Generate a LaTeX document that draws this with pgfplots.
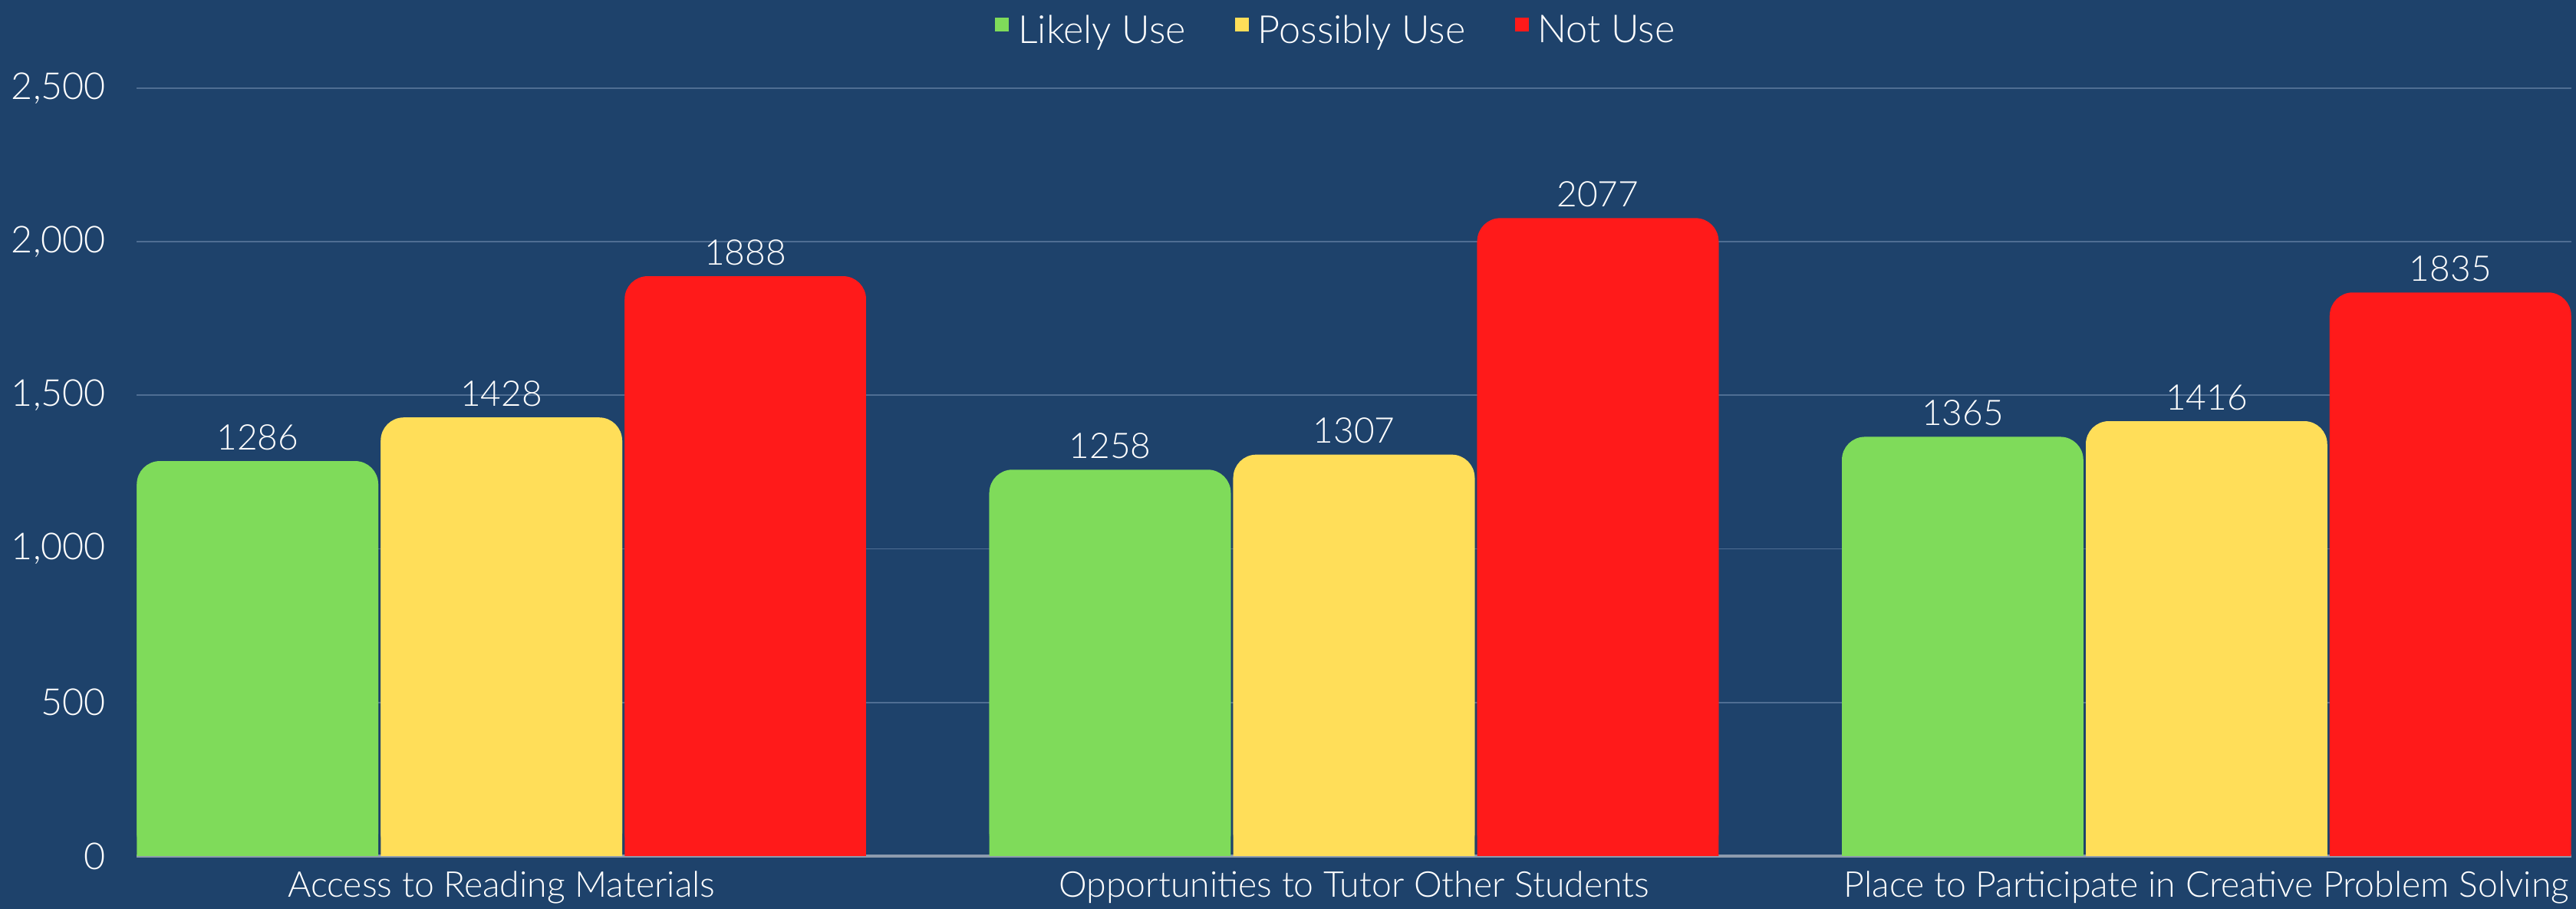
\documentclass[border=0pt]{standalone}
\usepackage{pgfplots}
\pgfplotsset{compat=1.18}
\usepackage{fontspec}
\IfFontExistsTF{Lato Light}{\setmainfont{Lato Light}}{\setmainfont{Lato}}
\definecolor{bgc}{HTML}{1E426B}
\definecolor{cgreen}{HTML}{7FDB5A}
\definecolor{cyellow}{HTML}{FFDE59}
\definecolor{cred}{HTML}{FF1A1A}
\definecolor{gridc}{HTML}{4F6E93}
\definecolor{zeroc}{HTML}{8D9BAE}
\pgfplotsset{
  mainbar/.style={ybar, bar width=0.2832, bar shift=0pt, fill=#1, draw=none, rounded corners=7.5pt,
    nodes near coords={\pgfmathprintnumber[assume math mode=true,1000 sep={}]{\pgfplotspointmeta}},
    nodes near coords style={text=white, font=\fontsize{11.5}{14}\selectfont, anchor=south, inner sep=3.4pt, sharp corners},
    legend image code/.code={\fill[##1, sharp corners] (0pt,0pt) rectangle (4.5pt,4.5pt);}},
  basebar/.style={ybar, bar width=0.2832, bar shift=0pt, fill=#1, draw=none, sharp corners, yshift=-7.5pt, forget plot},
}
\begin{document}
\begin{tikzpicture}
\path[use as bounding box, fill=bgc] (-44.5pt,-17.25pt) rectangle (795pt,279pt);
\begin{axis}[
  at={(0pt,0pt)}, anchor=south west,
  scale only axis, width=793.5pt, height=250.25pt,
  xmin=-0.428, xmax=2.428, ymin=0, ymax=2500,
  axis line style={draw=none},
  major tick length=0pt,
  xtick={0,1,2},
  xticklabels={Access to Reading Materials, Opportunities to Tutor Other Students, Place to Participate in Creative Problem Solving},
  ytick={0,500,...,2500},
  scaled y ticks=false,
  /pgf/number format/assume math mode=true,
  /pgf/number format/1000 sep={,},
  ymajorgrids, major grid style={draw=gridc, line width=0.45pt},
  extra y ticks={0}, extra y tick labels={},
  extra y tick style={grid=major, major grid style={draw=zeroc, line width=0.8pt}},
  ticklabel style={text=white},
  yticklabel style={xshift=-6.5pt, font=\fontsize{12.1}{14}\selectfont},
  xticklabel style={yshift=-1.5pt, font=\fontsize{11.6}{14}\selectfont},
  legend columns=3,
  legend style={draw=none, fill=none, text=white, font=\fontsize{12.6}{15}\selectfont,
    at={(0.4935,1.074)}, anchor=center,
    /tikz/every even column/.append style={column sep=14pt},
    /tikz/every odd column/.append style={column sep=1pt}},
]
\addplot[mainbar=cgreen] coordinates {(-0.2861,1286) (0.7139,1258) (1.7139,1365)};
\addplot[basebar=cgreen] coordinates {(-0.2861,1286) (0.7139,1258) (1.7139,1365)};
\addplot[mainbar=cyellow] coordinates {(0,1428) (1,1307) (2,1416)};
\addplot[basebar=cyellow] coordinates {(0,1428) (1,1307) (2,1416)};
\addplot[mainbar=cred] coordinates {(0.2861,1888) (1.2861,2077) (2.2861,1835)};
\addplot[basebar=cred] coordinates {(0.2861,1888) (1.2861,2077) (2.2861,1835)};
\legend{Likely Use, Possibly Use, Not Use}
\end{axis}
\end{tikzpicture}
\end{document}
